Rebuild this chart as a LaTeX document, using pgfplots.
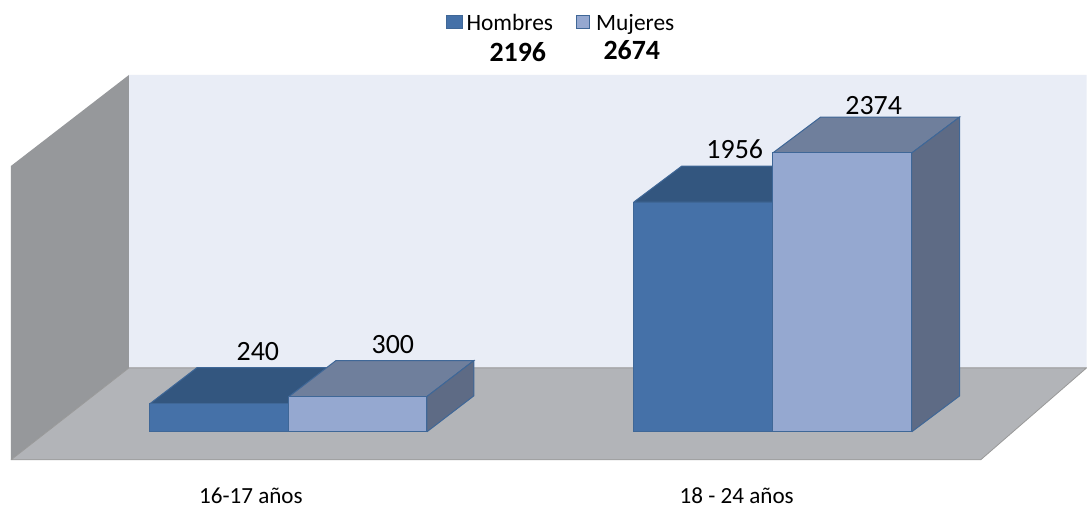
\documentclass[border=0pt]{standalone}
\usepackage{pgfplots}
\pgfplotsset{compat=1.18}
\usepackage{fontspec}
\setmainfont{Carlito}
\definecolor{wallback}{HTML}{E9EDF6}
\definecolor{wallleft}{HTML}{96989B}
\definecolor{floorc}{HTML}{B2B4B8}
\definecolor{hfront}{HTML}{4571A8}
\definecolor{htop}{HTML}{33567F}
\definecolor{mfront}{HTML}{95A8D0}
\definecolor{mtop}{HTML}{6F7F9C}
\definecolor{mside}{HTML}{5E6B85}
\definecolor{edgec}{HTML}{3F6797}
\newcommand{\lab}[1]{\fontsize{28}{28}\selectfont #1}
\newcommand{\leg}[1]{\fontsize{23.5}{23.5}\selectfont #1}
\newcommand{\cat}[1]{\fontsize{23.2}{23.2}\selectfont #1}
\begin{document}
\begin{tikzpicture}
\begin{axis}[
  scale only axis, width=1087bp, height=506bp,
  xmin=0, xmax=1087, ymin=-629.8, ymax=3676.6,
  hide axis, clip=false
]
% page
\addplot[draw=none, fill=white] coordinates {(0,-629.8)(1087,-629.8)(1087,3676.6)(0,3676.6)(0,-629.8)};
% back wall
\addplot[draw=none, fill=wallback] coordinates {(129,544.7)(1087,544.7)(1087,3038.3)(129,3038.3)(129,544.7)};
% left wall
\addplot[draw=none, fill=wallleft] coordinates {(11,-238.3)(129,544.7)(129,3038.3)(11,2263.8)(11,-238.3)};
% floor
\addplot[draw=gray!80, line width=0.8pt, fill=floorc] coordinates {(11,-238.3)(129,544.7)(1087,544.7)(981,-238.3)(11,-238.3)};
% 16-17 Hombres 240
\addplot[draw=edgec, line width=1pt, fill=htop] coordinates {(150,240)(197,546.4)(336,546.4)(289,240)(150,240)};
\addplot[draw=edgec, line width=1pt, fill=hfront] coordinates {(150,0)(289,0)(289,240)(150,240)(150,0)};
% 16-17 Mujeres 300
\addplot[draw=edgec, line width=1pt, fill=mtop] coordinates {(289,300)(336,606.4)(474,606.4)(427,300)(289,300)};
\addplot[draw=edgec, line width=1pt, fill=mside] coordinates {(427,0)(474,306.4)(474,606.4)(427,300)(427,0)};
\addplot[draw=edgec, line width=1pt, fill=mfront] coordinates {(289,0)(427,0)(427,300)(289,300)(289,0)};
% 18-24 Hombres 1956
\addplot[draw=edgec, line width=1pt, fill=htop] coordinates {(634,1956)(682,2262.4)(821,2262.4)(773,1956)(634,1956)};
\addplot[draw=edgec, line width=1pt, fill=hfront] coordinates {(634,0)(773,0)(773,1956)(634,1956)(634,0)};
% 18-24 Mujeres 2374
\addplot[draw=edgec, line width=1pt, fill=mtop] coordinates {(773,2374)(821,2680.4)(960,2680.4)(912,2374)(773,2374)};
\addplot[draw=edgec, line width=1pt, fill=mside] coordinates {(912,0)(960,306.4)(960,2680.4)(912,2374)(912,0)};
\addplot[draw=edgec, line width=1pt, fill=mfront] coordinates {(773,0)(912,0)(912,2374)(773,2374)(773,0)};
% legend swatches
\addplot[draw=edgec, line width=1pt, fill=hfront] coordinates {(447,3429.8)(463,3429.8)(463,3540.4)(447,3540.4)(447,3429.8)};
\addplot[draw=edgec, line width=1pt, fill=mfront] coordinates {(577,3429.8)(590,3429.8)(590,3540.4)(577,3540.4)(577,3429.8)};
% text
\node[anchor=base, inner sep=0pt] at (axis cs:510,3421) {\leg{Hombres}};
\node[anchor=base, inner sep=0pt] at (axis cs:635.5,3421) {\leg{Mujeres}};
\node[anchor=base, inner sep=0pt] at (axis cs:518,3150) {\lab{\textbf{2196}}};
\node[anchor=base, inner sep=0pt] at (axis cs:632,3167) {\lab{\textbf{2674}}};
\node[anchor=base, inner sep=0pt] at (axis cs:258,608) {\lab{240}};
\node[anchor=base, inner sep=0pt] at (axis cs:393,664) {\lab{300}};
\node[anchor=base, inner sep=0pt] at (axis cs:735,2330) {\lab{1956}};
\node[anchor=base, inner sep=0pt] at (axis cs:874,2702) {\lab{2374}};
\node[anchor=base, inner sep=0pt] at (axis cs:251,-612) {\cat{16-17 años}};
\node[anchor=base, inner sep=0pt] at (axis cs:737,-612) {\cat{18 - 24 años}};
\end{axis}
\end{tikzpicture}
\end{document}
